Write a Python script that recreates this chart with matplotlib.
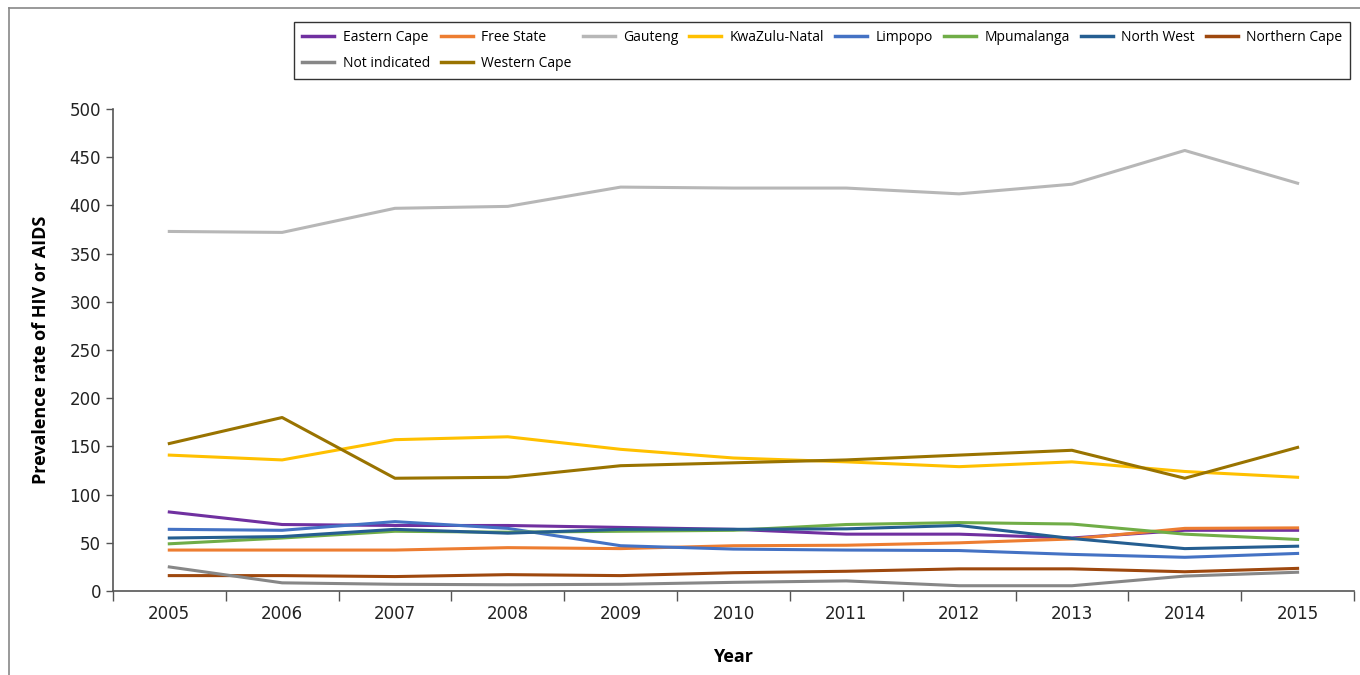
import matplotlib.pyplot as plt
from matplotlib.lines import Line2D

years = [2005, 2006, 2007, 2008, 2009, 2010, 2011, 2012, 2013, 2014, 2015]

eastern_cape = [82, 69, 68, 68, 66, 64, 59, 59, 55, 63, 63]
free_state = [42.5, 42.5, 42.5, 45, 44, 47, 47.5, 50, 54, 65, 65.5]
gauteng = [373, 372, 397, 399, 419, 418, 418, 412, 422, 457, 423]
kwazulu_natal = [141, 136, 157, 160, 147, 138, 134, 129, 134, 124, 118]
limpopo = [64, 63, 72, 65, 47, 43.5, 42.5, 42, 38, 35, 39]
mpumalanga = [49, 55, 62, 61, 62, 63, 69, 71, 69.5, 59, 53.5]
north_west = [55, 56.5, 64, 60, 64, 64, 64.5, 68, 54.5, 44, 46.5]
northern_cape = [16, 16, 15, 17, 16, 19, 20.5, 23, 23, 20, 23.5]
not_indicated = [25, 8.5, 7, 6.5, 7, 9, 10.5, 5.5, 5.5, 15.5, 19.5]
western_cape = [153, 180, 117, 118, 130, 133, 136, 141, 146, 117, 149]

series = [
    ("Eastern Cape", eastern_cape, "#7030A0"),
    ("Free State", free_state, "#ED7D31"),
    ("Gauteng", gauteng, "#B7B7B7"),
    ("KwaZulu-Natal", kwazulu_natal, "#FFC000"),
    ("Limpopo", limpopo, "#4472C4"),
    ("Mpumalanga", mpumalanga, "#70AD47"),
    ("North West", north_west, "#255E91"),
    ("Northern Cape", northern_cape, "#9E480E"),
    ("Not indicated", not_indicated, "#878787"),
    ("Western Cape", western_cape, "#997300"),
]

fig = plt.figure(figsize=(13.6, 6.75), dpi=100)
ax = fig.add_axes([0.083, 0.1244, 0.9126, 0.7141])

for name, vals, col in series:
    ax.plot(years, vals, color=col, lw=2.2, label=name)

ax.set_xlim(2004.5, 2015.5)
ax.set_ylim(0, 500)
ax.set_yticks(range(0, 501, 50))
ax.set_xticks(years)
ax.set_xticks([y - 0.5 for y in years] + [2015.5], minor=True)
ax.tick_params(axis="x", which="major", length=0, pad=10, labelsize=12, colors="#222222")
ax.tick_params(axis="x", which="minor", length=7, width=1, color="#555555")
ax.tick_params(axis="y", length=5, width=1, color="#555555", labelsize=12, labelcolor="#222222")
for s in ["top", "right"]:
    ax.spines[s].set_visible(False)
for s in ["left", "bottom"]:
    ax.spines[s].set_color("#555555")
    ax.spines[s].set_linewidth(1.2)

ax.set_xlabel("Year", fontsize=13, fontweight="bold", family="Open Sans", labelpad=18)
ax.set_ylabel("Prevalence rate of HIV or AIDS", fontsize=13, fontweight="bold",
              family="Open Sans", labelpad=14)

# legend fills column by column; reorder so it reads row by row
order = [0, 8, 1, 9, 2, 3, 4, 5, 6, 7]
handles = [Line2D([], [], color=series[i][2], lw=2.5) for i in order]
labels = [series[i][0] for i in order]
leg = fig.legend(handles, labels, ncol=8, loc="upper left",
                 bbox_to_anchor=(0.211, 0.978), frameon=True, fancybox=False,
                 edgecolor="black", handlelength=2.3,
                 columnspacing=0.8, handletextpad=0.6, borderpad=0.6,
                 labelspacing=0.75, prop={"family": "Open Sans", "size": 10.0})
leg.get_frame().set_linewidth(1.0)

# outer frame
fig.add_artist(Line2D([0.0066, 0.0066], [0, 0.988], color="#888888", lw=1.2))
fig.add_artist(Line2D([0.0066, 1.0], [0.988, 0.988], color="#888888", lw=1.2))

plt.savefig("out.png", dpi=100)
